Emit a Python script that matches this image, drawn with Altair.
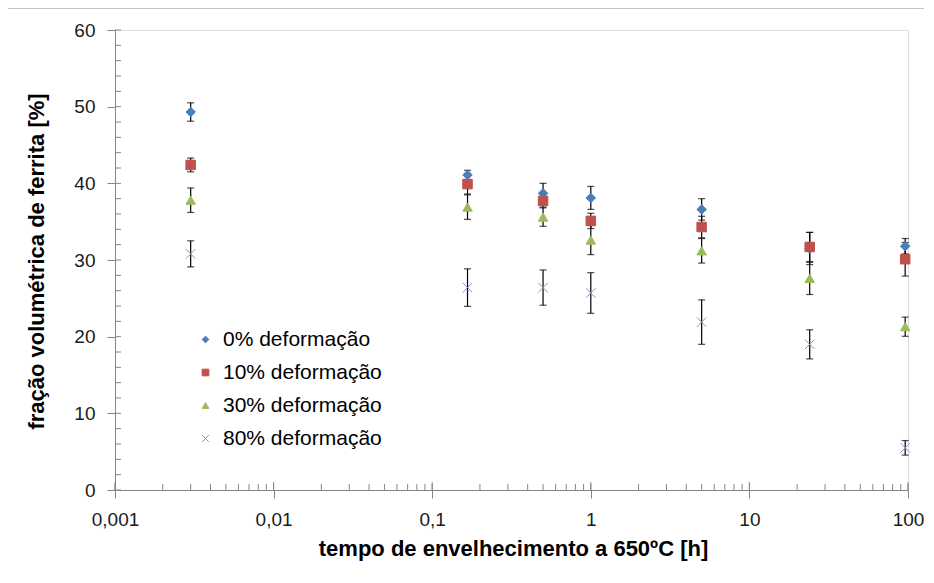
import altair as alt
import pandas as pd

# aging times [h]
times = [0.003, 0.167, 0.5, 1, 5, 24, 96]
series = ["0% deformação", "10% deformação", "30% deformação", "80% deformação"]

# ferrite volume fraction [%] and error half-widths
v0 = [49.3, 41.1, 38.7, 38.1, 36.6, 31.5, 31.8]
e0 = [1.2, 0.6, 1.3, 1.5, 1.4, 2.1, 1.0]
v10 = [42.4, 39.9, 37.7, 35.1, 34.3, 31.7, 30.1]
e10 = [0.9, 1.3, 0.8, 1.0, 1.4, 1.9, 2.2]
v30 = [37.8, 36.9, 35.6, 32.6, 31.2, 27.6, 21.3]
e30 = [1.6, 1.6, 1.2, 1.9, 1.6, 2.1, 1.25]
v80 = [30.8, 26.4, 26.4, 25.7, 21.9, 19.0, 5.5]
e80 = [1.7, 2.45, 2.3, 2.65, 2.9, 1.9, 0.95]

x_major = [0.001, 0.01, 0.1, 1, 10, 100]
x_minor = [k * d for d in [0.001, 0.01, 0.1, 1, 10] for k in range(1, 10)] + [100]
y_minor = list(range(0, 61, 2))

colors_fill = ["#4A7EBB", "#C0504D", "#9BBB59", "transparent"]
colors_stroke = ["#4A7EBB", "#C0504D", "#9BBB59", "#9A8CC4"]
shapes = ["diamond", "square", "triangle-up", "M-1,-1L1,1M-1,1L1,-1"]

rows = []
for s, vals, errs in zip(series, [v0, v10, v30, v80], [e0, e10, e30, e80]):
    for t, v, e in zip(times, vals, errs):
        rows.append({"t": t, "s": s, "v": v, "lo": v - e, "hi": v + e})
df = pd.DataFrame(rows)

axis_color = "#868686"
font = "Liberation Sans"
W, H = 793, 460

xenc = alt.X(
    "t:Q",
    scale=alt.Scale(type="log", domain=[0.001, 100], nice=False),
    axis=alt.Axis(
        values=x_major,
        labelExpr="replace(toString(datum.value), '.', ',')",
        title="tempo de envelhecimento a 650ºC [h]",
        grid=False,
        domainColor=axis_color,
        tickColor=axis_color,
        tickSize=8,
        labelPadding=12,
        labelFontSize=19,
        labelColor="#1a1a1a",
        labelFont=font,
        titleFont=font,
        titleFontSize=22,
        titleFontWeight="bold",
        titleColor="#000000",
        titleX=398,
        titleY=58,
        titleBaseline="middle",
        labelFlush=False,
    ),
)
yenc = alt.Y(
    "v:Q",
    scale=alt.Scale(domain=[0, 60], nice=False),
    axis=alt.Axis(
        values=[0, 10, 20, 30, 40, 50, 60],
        title="fração volumétrica de ferrita [%]",
        grid=False,
        domainColor=axis_color,
        tickColor=axis_color,
        tickSize=8,
        labelPadding=12,
        labelFontSize=19,
        labelColor="#1a1a1a",
        labelFont=font,
        titleFont=font,
        titleFontSize=22,
        titleFontWeight="bold",
        titleColor="#000000",
        titleX=-79,
        titleY=231,
        titleAngle=-90,
        titleAlign="center",
        titleBaseline="middle",
        labelFlush=False,
    ),
)

ymin_df = pd.DataFrame({"v": y_minor})
xmin_df = pd.DataFrame({"t": x_minor})
xmaj_df = pd.DataFrame({"t": x_major})

frame = alt.Chart(pd.DataFrame({"a": [0]})).mark_rect(
    fill="transparent", stroke="#8a8a8a", strokeWidth=1
).encode(x=alt.value(-108), x2=alt.value(900), y=alt.value(-22), y2=alt.value(700))

yticks = alt.Chart(ymin_df).mark_rule(color=axis_color, strokeWidth=1).encode(
    y=yenc, x=alt.value(0), x2=alt.value(6)
)
xticks = alt.Chart(xmin_df).mark_rule(color=axis_color, strokeWidth=1).encode(
    x=xenc, y=alt.value(H), y2=alt.value(H - 6)
)
xticks_major = alt.Chart(xmaj_df).mark_rule(color=axis_color, strokeWidth=1).encode(
    x=xenc, y=alt.value(H), y2=alt.value(H - 8)
)

base = alt.Chart(df)
err = base.mark_rule(color="#000000", strokeWidth=1.2).encode(
    x=xenc, y=alt.Y("lo:Q"), y2="hi:Q"
)
cap_lo = base.mark_tick(color="#000000", orient="horizontal", size=7, thickness=1.2).encode(
    x=xenc, y=alt.Y("lo:Q")
)
cap_hi = base.mark_tick(color="#000000", orient="horizontal", size=7, thickness=1.2).encode(
    x=xenc, y=alt.Y("hi:Q")
)

leg = alt.Legend(
    title=None,
    orient="none",
    legendX=80,
    legendY=299,
    labelFontSize=21,
    labelFont=font,
    labelColor="#000000",
    symbolSize=45,
    symbolStrokeWidth=1,
    rowPadding=11,
    labelOffset=7,
)

points = base.mark_point(opacity=1, size=90, strokeWidth=1).encode(
    x=xenc,
    y=yenc,
    shape=alt.Shape("s:N", scale=alt.Scale(domain=series, range=shapes), legend=leg),
    fill=alt.Fill("s:N", scale=alt.Scale(domain=series, range=colors_fill), legend=leg),
    stroke=alt.Stroke("s:N", scale=alt.Scale(domain=series, range=colors_stroke), legend=leg),
)

chart = alt.layer(frame, yticks, xticks, xticks_major, err, cap_lo, cap_hi, points).properties(
    width=W,
    height=H,
    autosize=alt.AutoSizeParams(type="none"),
    padding={"left": 107, "top": 22, "right": 16, "bottom": 80},
).configure_view(stroke=None).configure(background="#ffffff")

chart.save("out.html", embed_options={"renderer": "svg", "actions": False})
